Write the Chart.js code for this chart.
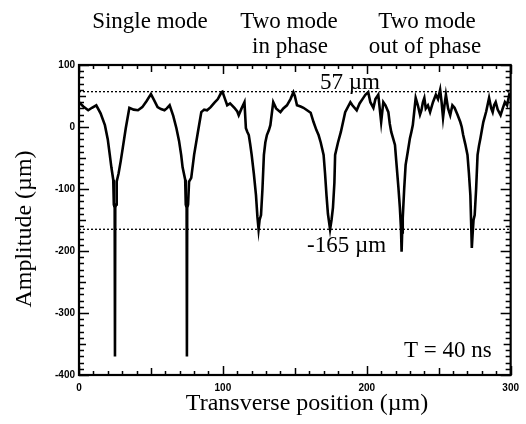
<!DOCTYPE html>
<html>
<head>
<meta charset="utf-8">
<script src="https://cdn.jsdelivr.net/npm/chart.js@4/dist/chart.umd.min.js"></script>
<style>
  html, body { margin: 0; padding: 0; background: #fff; }
  canvas { display: block; }
</style>
</head>
<body>
<canvas id="chart" width="526" height="424"></canvas>
<script>
// Transverse position (um) and amplitude (um) at T = 40 ns
const positions = [
  0, 3, 6.4, 9, 12, 15, 18, 20, 21.4, 22.5, 23.8, 24.2, 24.8, 25, 25.2, 25.8, 26.2, 27.5, 29, 30.4, 32.5, 35, 38, 41, 44, 47, 50, 52, 54.6, 57, 59.4, 61, 63, 65.5, 67.7, 69.5, 71, 72, 73.8, 74.2, 74.8, 75, 75.2, 75.8, 76.5, 78, 80, 82.5, 85, 87, 89, 91.5, 94, 96.5, 99,
  99.7, 101.5, 103, 105, 108, 110, 111, 113, 115, 116, 117, 118, 119, 120, 121.5, 123, 124, 124.8, 125.5, 126.5, 127.5, 128.5, 129.5, 130.6, 132, 133, 135, 137, 140, 142, 144.5, 147, 149, 150, 151.5, 154, 156, 158.5, 161, 163, 165, 166.5, 168, 170, 171, 172, 173, 174.5, 175.5, 176.5, 177.5, 178, 180, 182, 185, 188.6, 190, 193, 195, 197.6,
  199, 201, 202.5, 204.6, 206, 208, 209, 210, 211.5, 213, 215, 216, 217, 218.5, 219.6, 220.5, 222, 223, 223.8, 224.2, 224.6, 225, 226, 227, 228.5, 230, 231, 232, 233, 234, 235.5, 237, 238, 239, 240, 241, 242.5, 244, 246, 248, 249.5, 251, 252, 253, 254, 255, 256.5, 258, 259.5, 261, 263, 265, 266, 267, 268.5, 270, 271, 272, 272.6, 273, 273.5, 274.2, 275, 276, 277, 278, 279, 280, 281, 283, 285, 286.5, 287.5, 288.5, 289.6, 291, 293, 294.5, 296, 297.5, 299, 300
];
const amplitude = [
  40, 33, 27, 31, 35, 22, 3, -20, -45, -65, -85, -125, -130, -370, -130, -125, -88, -75, -55, -34, -2, 31, 28, 27, 32, 42, 53, 44, 32, 29, 27, 30, 35, 18, -2, -22, -45, -65, -85, -125, -130, -370, -130, -125, -88, -82, -45, -10, 24, 28, 27, 32, 39, 45, 56,
  57, 45, 35, 38, 31, 25, 19, 30, 40, -2, -8, -13, -28, -45, -75, -110, -145, -165, -150, -142, -100, -45, -25, -13, -5, 3, 40, 30, 24, 30, 35, 45, 56, 50, 35, 33, 31, 27, 23, 8, -5, -13, -25, -45, -75, -110, -140, -165, -150, -130, -90, -45, -25, -8, 24, 40, 35, 27, 38, 47,
  52, 56, 40, 31, 45, 52, 30, 8, 40, 35, 24, 5, -8, -20, -29, -55, -98, -130, -165, -201, -170, -147, -100, -61, -40, -18, -8, 3, 25, 47, 35, 20, 27, 40, 47, 30, 35, 24, 40, 52, 45, 60, 40, 15, 35, 52, 30, 19, 35, 31, 20, 8, 0, -13, -28, -45, -75, -110, -160, -195, -175, -150, -142, -100, -45, -30, -18, -5, 8, 25, 47, 30, 24, 35, 40, 28, 19, 30, 40, 35, 52, 48
];
// Reference levels (um)
const levels = [57, -165];
const levelLabels = ['57 µm', '-165 µm'];
const xRange = [0, 300];
const yRange = [-400, 100];

const serif = '"Liberation Serif", "DejaVu Serif", serif';
const tickFont = { family: '"Liberation Sans", Arial, sans-serif', size: 10, weight: 'bold' };

const curve = positions.map((x, i) => ({ x: x, y: amplitude[i] }));
const levelSets = levels.map(v => ({
  data: [{ x: xRange[0], y: v }, { x: xRange[1], y: v }],
  showLine: true,
  borderColor: '#000',
  borderWidth: 1.3,
  borderDash: [2, 2],
  pointRadius: 0
}));

// frame, inward ticks on all four sides and the annotation text
const framePlugin = {
  id: 'frame',
  afterDraw(chart) {
    const { ctx, chartArea: a, scales: { x, y } } = chart;
    ctx.save();
    ctx.strokeStyle = '#000';
    ctx.lineWidth = 1.5;
    for (let v = xRange[0]; v <= xRange[1]; v += 10) {
      const px = Math.round(x.getPixelForValue(v)) + 0.5;
      const len = v % 100 === 0 ? 9 : (v % 50 === 0 ? 7 : 4);
      ctx.beginPath();
      ctx.moveTo(px, a.bottom); ctx.lineTo(px, a.bottom - len);
      ctx.moveTo(px, a.top); ctx.lineTo(px, a.top + len);
      ctx.stroke();
    }
    for (let v = yRange[0]; v <= yRange[1]; v += 10) {
      const py = Math.round(y.getPixelForValue(v)) + 0.5;
      const len = v % 100 === 0 ? 10 : (v % 50 === 0 ? 7 : 5);
      ctx.beginPath();
      ctx.moveTo(a.left, py); ctx.lineTo(a.left + len, py);
      ctx.moveTo(a.right, py); ctx.lineTo(a.right - len, py);
      ctx.stroke();
    }
    ctx.lineWidth = 2.2;
    ctx.strokeRect(a.left, a.top, a.right - a.left, a.bottom - a.top);

    ctx.fillStyle = '#000';
    ctx.font = '23px ' + serif;
    ctx.textAlign = 'center';
    ctx.textBaseline = 'alphabetic';
    ctx.fillText('Single mode', 150, 28);
    ctx.fillText('Two mode', 289, 28);
    ctx.fillText('in phase', 290, 53);
    ctx.fillText('Two mode', 427, 28);
    ctx.fillText('out of phase', 425, 53);

    ctx.textAlign = 'left';
    ctx.fillText(levelLabels[0], 320, y.getPixelForValue(levels[0]) - 3);
    ctx.fillText(levelLabels[1], 307, y.getPixelForValue(levels[1]) + 23);
    ctx.fillText('T = 40 ns', 404, 357);

    ctx.font = '24px ' + serif;
    ctx.textAlign = 'center';
    ctx.fillText('Transverse position (µm)', 307, 410);
    ctx.save();
    ctx.translate(31, 229);
    ctx.rotate(-Math.PI / 2);
    ctx.fillText('Amplitude (µm)', 0, 0);
    ctx.restore();
    ctx.restore();
  }
};

new Chart(document.getElementById('chart'), {
  type: 'scatter',
  data: {
    datasets: [
      {
        data: curve,
        showLine: true,
        borderColor: '#000',
        borderWidth: 2.6,
        pointRadius: 0,
        tension: 0
      },
      ...levelSets
    ]
  },
  options: {
    responsive: false,
    animation: false,
    layout: { padding: { top: 65, right: 12, left: 0, bottom: 0 } },
    plugins: { legend: { display: false }, tooltip: { enabled: false } },
    scales: {
      x: {
        type: 'linear',
        min: xRange[0],
        max: xRange[1],
        ticks: { stepSize: 100, font: tickFont, color: '#000', padding: 7, maxRotation: 0 },
        grid: { display: false, drawTicks: false },
        border: { display: false },
        afterFit: s => { s.height = 49; }
      },
      y: {
        min: yRange[0],
        max: yRange[1],
        ticks: { stepSize: 100, font: tickFont, color: '#000', padding: 4 },
        grid: { display: false, drawTicks: false },
        border: { display: false },
        afterFit: s => { s.width = 79; }
      }
    }
  },
  plugins: [framePlugin]
});
</script>
</body>
</html>
